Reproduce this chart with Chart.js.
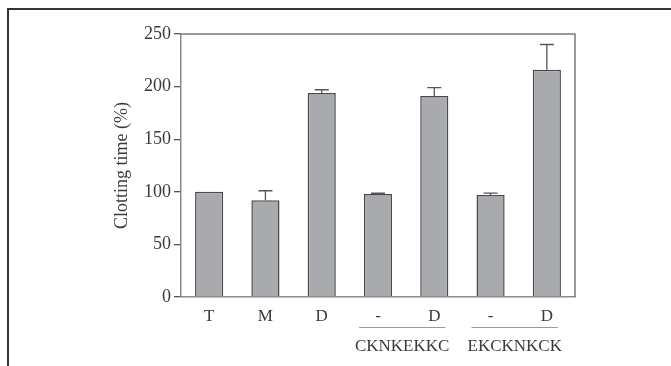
<!DOCTYPE html>
<html>
<head>
<meta charset="utf-8">
<script src="https://cdn.jsdelivr.net/npm/chart.js@4"></script>
<style>
  html, body { margin: 0; padding: 0; background: #fff; }
  #wrap { position: relative; width: 671px; height: 366px; overflow: hidden; }
  #frame { position: absolute; left: 7px; top: 8px; width: 700px; height: 400px;
           border-top: 2px solid #333; border-left: 2px solid #333; }
  canvas { position: absolute; left: 0; top: 0; }
</style>
</head>
<body>
<div id="wrap">
  <div id="frame"></div>
  <canvas id="chart" width="671" height="366"></canvas>
</div>
<script>
// data
const labels = ['T', 'M', 'D', '-', 'D', '-', 'D'];
const values = [100, 92, 194, 98, 191, 97, 216];
const errTops = [100, 101, 197, 98.6, 199, 98.7, 240];
const groups = [
  { name: 'CKNKEKKC', from: 3, to: 4 },
  { name: 'EKCKNKCK', from: 5, to: 6 }
];
const yTicks = [0, 50, 100, 150, 200, 250];
const yTitle = 'Clotting time (%)';

const FONT = '"Liberation Serif", "Times New Roman", serif';
const TXT = '#3a3a3a';

const extras = {
    id: 'extras',
    afterDatasetsDraw(chart) {
        const ctx = chart.ctx;
        const x = chart.scales.x, y = chart.scales.y;
        const a = chart.chartArea;
        ctx.save();

        // frame on top and right
        ctx.strokeStyle = '#7a7a7a';
        ctx.lineWidth = 1.5;
        ctx.beginPath();
        ctx.moveTo(a.left, a.top);
        ctx.lineTo(a.right, a.top);
        ctx.lineTo(a.right, a.bottom);
        ctx.stroke();

        // error bars (upper only)
        ctx.strokeStyle = '#555';
        ctx.lineWidth = 1.3;
        errTops.forEach((e, i) => {
            if (e <= values[i]) return;
            const cx = x.getPixelForValue(i);
            const y0 = y.getPixelForValue(values[i]);
            const y1 = y.getPixelForValue(e);
            ctx.beginPath();
            ctx.moveTo(cx, y0);
            ctx.lineTo(cx, y1);
            ctx.moveTo(cx - 7, y1);
            ctx.lineTo(cx + 7, y1);
            ctx.stroke();
        });

        // group underlines and names
        ctx.font = '17px ' + FONT;
        ctx.fillStyle = TXT;
        ctx.textAlign = 'center';
        ctx.textBaseline = 'middle';
        groups.forEach(g => {
            const l = x.getPixelForValue(g.from) - 19;
            const r = x.getPixelForValue(g.to) + 11;
            ctx.strokeStyle = '#9a9a9a';
            ctx.lineWidth = 1;
            ctx.beginPath();
            ctx.moveTo(l, a.bottom + 30.5);
            ctx.lineTo(r, a.bottom + 30.5);
            ctx.stroke();
            ctx.fillText(g.name, (l + r) / 2, a.bottom + 50);
        });

        // y axis title
        ctx.translate(122, (a.top + a.bottom) / 2);
        ctx.rotate(-Math.PI / 2);
        ctx.font = '18px ' + FONT;
        ctx.fillText(yTitle, 0, 0);
        ctx.restore();
    }
};

new Chart(document.getElementById('chart'), {
    type: 'bar',
    data: {
        labels: labels,
        datasets: [{
            data: values,
            backgroundColor: '#a9aaae',
            borderColor: '#4a4a4a',
            borderWidth: 1.5,
            barPercentage: 0.5,
            categoryPercentage: 1
        }]
    },
    options: {
        responsive: false,
        animation: false,
        events: [],
        layout: { padding: { left: 0, top: 34, right: 96, bottom: 0 } },
        plugins: { legend: { display: false }, tooltip: { enabled: false } },
        scales: {
            x: {
                grid: { display: false },
                border: { color: '#8a8a8a', width: 1.5 },
                ticks: { color: TXT, font: { family: FONT, size: 17 }, padding: 1 },
                afterFit: s => { s.height = 69; }
            },
            y: {
                min: 0, max: 250,
                afterBuildTicks: s => { s.ticks = yTicks.map(v => ({ value: v })); },
                grid: { drawOnChartArea: false, drawTicks: true, tickLength: 7, color: '#555', lineWidth: 1.3 },
                border: { color: '#8a8a8a', width: 1.5 },
                ticks: { color: TXT, font: { family: FONT, size: 18 }, padding: 3 },
                afterFit: s => { s.width = 181; }
            }
        }
    },
    plugins: [extras]
});
</script>
</body>
</html>
